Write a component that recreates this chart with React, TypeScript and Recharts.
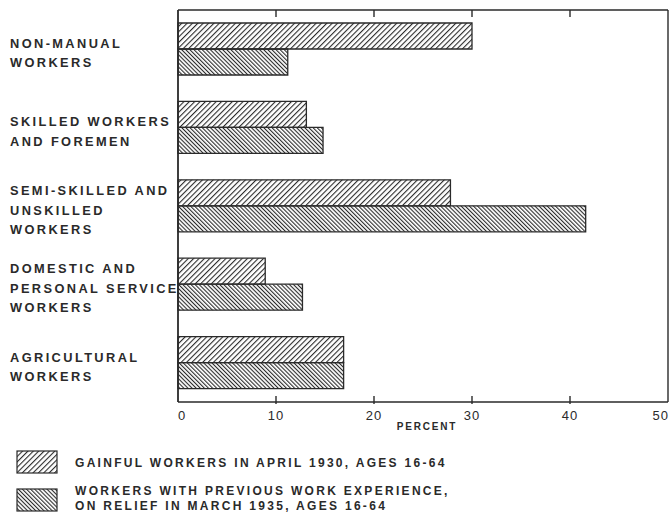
import React from 'react';
import { BarChart, Bar, XAxis, YAxis, ReferenceLine } from 'recharts';

const categories = [
  'NON-MANUAL WORKERS',
  'SKILLED WORKERS AND FOREMEN',
  'SEMI-SKILLED AND UNSKILLED WORKERS',
  'DOMESTIC AND PERSONAL SERVICE WORKERS',
  'AGRICULTURAL WORKERS',
];
const categoryLines = [
  ['NON-MANUAL', 'WORKERS'],
  ['SKILLED WORKERS', 'AND FOREMEN'],
  ['SEMI-SKILLED AND', 'UNSKILLED', 'WORKERS'],
  ['DOMESTIC AND', 'PERSONAL SERVICE', 'WORKERS'],
  ['AGRICULTURAL', 'WORKERS'],
];
const gainful1930 = [30.0, 13.1, 27.8, 8.9, 16.9];
const relief1935 = [11.2, 14.8, 41.6, 12.7, 16.9];
const xTicks = [0, 10, 20, 30, 40, 50];
const topTicks = [10, 20, 30, 40];
const legendGainful = ['GAINFUL WORKERS IN APRIL 1930, AGES 16-64'];
const legendRelief = ['WORKERS WITH PREVIOUS WORK EXPERIENCE,', 'ON RELIEF IN MARCH 1935, AGES 16-64'];
const axisTitle = 'PERCENT';

const data = categories.map((c, i) => ({ category: c, gainful: gainful1930[i], relief: relief1935[i] }));

const FONT = '"Liberation Sans", Arial, Helvetica, sans-serif';
const INK = '#2a2a2a';

function Patterns({ prefix }: { prefix: string }) {
  return (
    <defs>
      <pattern id={prefix + 'Up'} patternUnits="userSpaceOnUse" width="3.8" height="10" patternTransform="rotate(45)">
        <rect x="0" y="0" width="1.1" height="10" fill={INK} />
      </pattern>
      <pattern id={prefix + 'Down'} patternUnits="userSpaceOnUse" width="2.9" height="10" patternTransform="rotate(-45)">
        <rect x="0" y="0" width="1.1" height="10" fill={INK} />
      </pattern>
    </defs>
  );
}

function CategoryTick(props: any) {
  const { y, payload } = props;
  const idx = categories.indexOf(payload.value);
  const lines = idx >= 0 ? categoryLines[idx] : [String(payload.value)];
  const n = lines.length;
  return (
    <g>
      {lines.map((ln, i) => (
        <text
          key={i}
          x={10}
          y={y + 4 + (i - (n - 1) / 2) * 19.5 + 4.5}
          textAnchor="start"
          fontFamily={FONT}
          fontWeight="bold"
          fontSize={12.8}
          letterSpacing={2.4}
          fill={INK}
        >
          {ln}
        </text>
      ))}
    </g>
  );
}

function BottomTick(props: any) {
  const { x, y, payload } = props;
  const v = payload.value;
  const anchor = v === 50 ? 'end' : 'middle';
  const tx = v === 0 ? x + 4 : v === 50 ? 669 : x;
  return (
    <g>
      {v !== 0 && v !== 50 && <line x1={x} x2={x} y1={y} y2={y - 8} stroke={INK} strokeWidth={1.4} />}
      <text x={tx} y={y + 16} textAnchor={anchor} fontFamily={FONT} fontSize={13} letterSpacing={1} fill={INK}>
        {v}
      </text>
    </g>
  );
}

function TopTickShape(props: any) {
  const { x1, y1, y2 } = props;
  const top = Math.min(Number(y1), Number(y2));
  if (!isFinite(top) || !isFinite(Number(x1))) return null;
  return <line x1={x1} x2={x1} y1={top} y2={top + 7} stroke={INK} strokeWidth={1.4} />;
}

function PercentLabel(props: any) {
  const vb = props.viewBox || { x: 178, y: 402, width: 490 };
  return (
    <text x={vb.x + vb.width / 2 + 4} y={vb.y + 28} textAnchor="middle" fontFamily={FONT} fontWeight="bold" fontSize={10} letterSpacing={1.8} fill={INK}>
      {axisTitle}
    </text>
  );
}

export default function App() {
  return (
    <div style={{ position: 'absolute', left: 0, top: 0, width: 669, height: 514, background: '#fff' }}>
      <BarChart
        width={669}
        height={514}
        data={data}
        layout="vertical"
        margin={{ top: 6, right: 1, bottom: 82, left: 8 }}
        barGap={0}
        barSize={26}
      >
        <Patterns prefix="c" />
        <XAxis
          type="number"
          domain={[0, 50]}
          ticks={xTicks}
          interval={0}
          height={30}
          tickSize={0}
          tickLine={false}
          axisLine={{ stroke: INK, strokeWidth: 1.6 }}
          tick={<BottomTick />}
          label={<PercentLabel />}
        />
        <XAxis
          xAxisId="top"
          orientation="top"
          type="number"
          domain={[0, 50]}
          ticks={topTicks}
          interval={0}
          height={4}
          tick={false}
          tickLine={false}
          axisLine={{ stroke: INK, strokeWidth: 1.4 }}
        />
        <YAxis
          type="category"
          dataKey="category"
          width={170}
          interval={0}
          tickLine={false}
          tickSize={0}
          axisLine={{ stroke: INK, strokeWidth: 1.8 }}
          tick={<CategoryTick />}
        />
        <ReferenceLine x={50} stroke={INK} strokeWidth={1.4} />
        {topTicks.map((t) => (
          <ReferenceLine key={t} x={t} shape={<TopTickShape />} />
        ))}
        <Bar dataKey="gainful" fill="url(#cUp)" stroke={INK} strokeWidth={1.3} isAnimationActive={false} />
        <Bar dataKey="relief" fill="url(#cDown)" stroke={INK} strokeWidth={1.3} isAnimationActive={false} />
      </BarChart>
      <svg width={669} height={514} style={{ position: 'absolute', left: 0, top: 0, pointerEvents: 'none' }}>
        <Patterns prefix="l" />
        <rect x={17} y={451} width={40} height={22} fill="url(#lUp)" stroke={INK} strokeWidth={1.2} />
        <rect x={17} y={489} width={40} height={22} fill="url(#lDown)" stroke={INK} strokeWidth={1.2} />
        {legendGainful.map((t, i) => (
          <text key={i} x={75} y={467 + i * 14.5} fontFamily={FONT} fontWeight="bold" fontSize={12} letterSpacing={2.3} fill={INK}>
            {t}
          </text>
        ))}
        {legendRelief.map((t, i) => (
          <text key={i} x={75} y={495 + i * 14.5} fontFamily={FONT} fontWeight="bold" fontSize={12} letterSpacing={2.3} fill={INK}>
            {t}
          </text>
        ))}
      </svg>
    </div>
  );
}
